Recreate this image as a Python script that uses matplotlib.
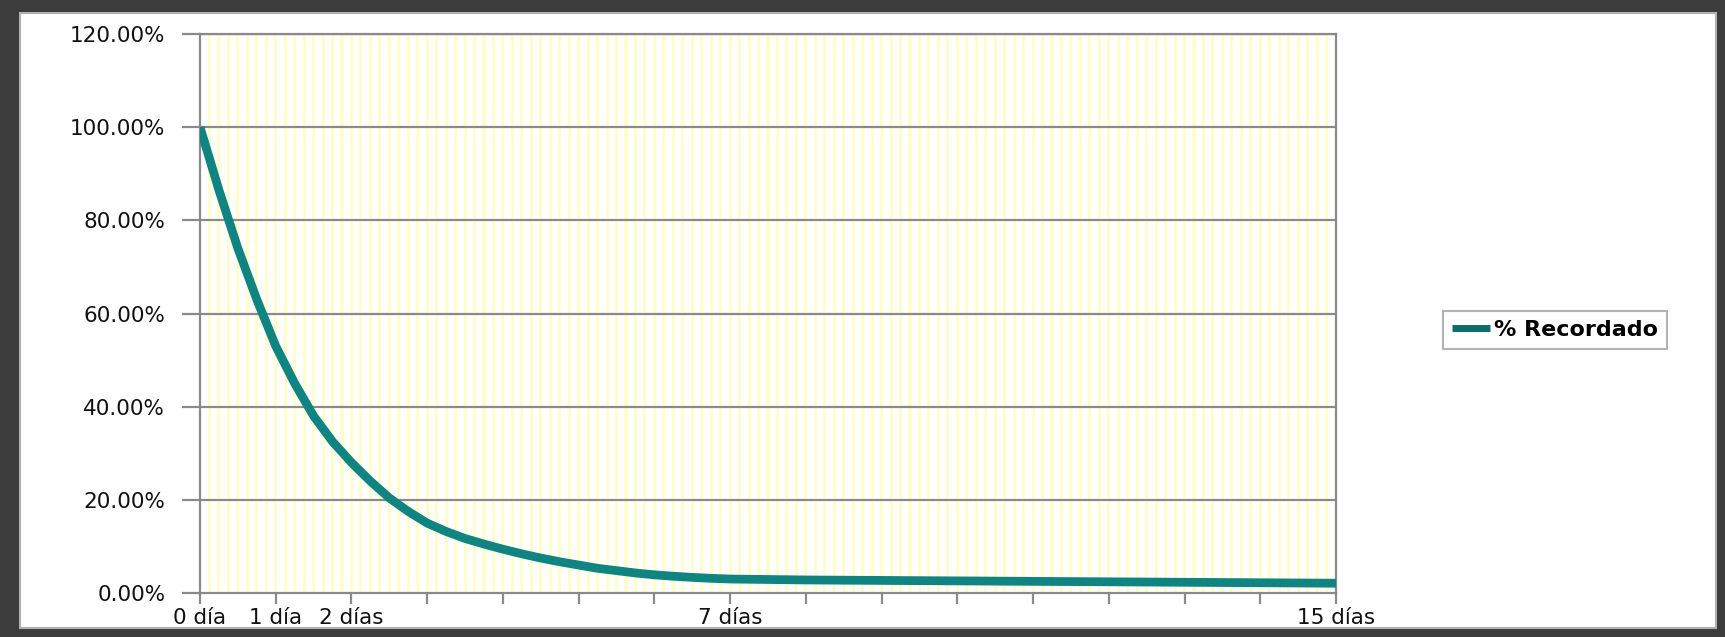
#!/usr/bin/env python3
# -*- coding: utf-8 -*-
"""
Curva del olvido: porcentaje recordado frente a los días transcurridos.
"""

import numpy as np
import matplotlib
matplotlib.use('Agg')
import matplotlib.pyplot as plt
from matplotlib.patches import Rectangle

# Datos de la curva (días, % recordado)
dias = [0.0, 0.25, 0.5, 0.75, 1.0, 1.25, 1.5, 1.75, 2.0, 2.25, 2.5, 2.75, 3.0,
        3.25, 3.5, 3.75, 4.0, 4.25, 4.5, 4.75, 5.0, 5.25, 5.5, 5.75, 6.0, 6.25,
        6.5, 6.75, 7.0, 7.5, 8.0, 9.0, 10.0, 11.0, 12.0, 13.0, 14.0, 15.0]
recordado = [100.0, 86.5, 74.0, 63.0, 53.0, 45.0, 38.0, 32.5, 28.0, 24.0, 20.4,
             17.5, 15.0, 13.2, 11.7, 10.5, 9.4, 8.4, 7.5, 6.7, 6.0, 5.3, 4.8,
             4.3, 3.9, 3.6, 3.35, 3.15, 3.0, 2.9, 2.8, 2.7, 2.6, 2.5, 2.4,
             2.3, 2.2, 2.1]

# Eje X: una marca por día, etiqueta sólo en algunos
marcas_x = list(range(0, 16))
etiquetas_x = {0: '0 día', 1: '1 día', 2: '2 días', 7: '7 días', 15: '15 días'}
marcas_y = [0, 20, 40, 60, 80, 100, 120]

serie = '% Recordado'

W, H = 1725, 637
DPI = 100
GRIS = '#8a8a8a'
VERDE = '#0f8480'


def dibujar(ruta='out.png'):
    fig = plt.figure(figsize=(W / DPI, H / DPI), dpi=DPI, facecolor='#3c3c3c')

    # marco blanco interior (por debajo de los ejes)
    fig.patches.append(Rectangle((20 / W, 1 - 628 / H), (1716 - 20) / W, (628 - 13) / H,
                                 transform=fig.transFigure, facecolor='white',
                                 edgecolor='#b0b0b0', linewidth=1.5, zorder=-10))

    ax = fig.add_axes([200 / W, 1 - 593 / H, (1336 - 200) / W, (593 - 34) / H])
    ax.set_zorder(1)
    ax.set_facecolor('white')

    # rayas amarillas del fondo
    for x in np.arange(1, 15 * 8) / 8:
        ax.axvspan(x - 0.02, x + 0.02, color='#ffffcc', linewidth=0, zorder=0)

    # líneas de división horizontales
    for y in marcas_y[1:]:
        ax.axhline(y, color=GRIS, linewidth=1.6, zorder=1)

    ax.plot(dias, recordado, color=VERDE, linewidth=6.3, solid_capstyle='butt',
            solid_joinstyle='round', label=serie, zorder=3)

    ax.set_xlim(0, 15)
    ax.set_ylim(0, 120)

    ax.set_yticks(marcas_y)
    ax.set_yticklabels([f'{v:.2f}%' for v in marcas_y])
    ax.set_xticks(marcas_x)
    ax.set_xticklabels([etiquetas_x.get(d, '') for d in marcas_x])

    for lado in ['left', 'right', 'top', 'bottom']:
        ax.spines[lado].set_color(GRIS)
        ax.spines[lado].set_linewidth(1.6)

    ax.tick_params(axis='y', length=13, width=1.6, color=GRIS, pad=12,
                   labelsize=15.5, labelcolor='#111111')
    ax.tick_params(axis='x', length=8, width=1.6, color=GRIS, pad=3,
                   labelsize=15.5, labelcolor='#111111')
    for t in ax.get_xticklabels() + ax.get_yticklabels():
        t.set_fontfamily('DejaVu Sans')

    # leyenda a la derecha
    leg = fig.legend(loc='center', bbox_to_anchor=(1555 / W, 1 - 330 / H),
                     prop={'family': 'DejaVu Sans', 'weight': 'bold', 'size': 16},
                     frameon=True, fancybox=False, handlelength=1.7,
                     handletextpad=0.2, borderpad=0.4, borderaxespad=0)
    leg.get_frame().set_edgecolor('#a0a0a0')
    leg.get_frame().set_linewidth(1.5)
    for linea in leg.get_lines():
        linea.set_linewidth(5)
        linea.set_color('#0c6e6c')

    fig.savefig(ruta, dpi=DPI, facecolor=fig.get_facecolor())


if __name__ == '__main__':
    dibujar('out.png')
